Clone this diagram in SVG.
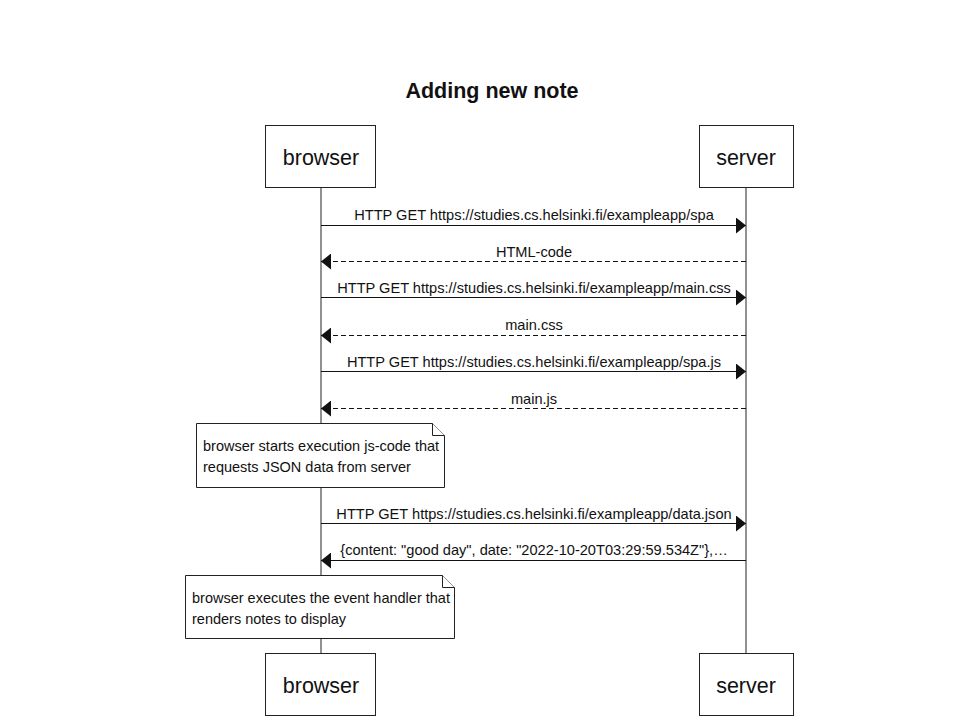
<svg xmlns="http://www.w3.org/2000/svg" width="973" height="725" viewBox="0 0 973 725">
<defs>
<style>
.box{fill:#fff;stroke:#222;stroke-width:1}
.life{stroke:#222;stroke-width:1}
.pt{font-family:"Liberation Sans",Arial,sans-serif;font-size:21.5px;fill:#111;text-anchor:middle}
.title{font-family:"Liberation Sans",Arial,sans-serif;font-size:21.5px;font-weight:bold;fill:#111;text-anchor:middle}
.msg{font-family:"Liberation Sans",Arial,sans-serif;font-size:14.6px;fill:#111;text-anchor:middle}
.nt{font-family:"Liberation Sans",Arial,sans-serif;font-size:14.5px;fill:#111}
.solid{stroke:#111;stroke-width:1;fill:none}
.dash{stroke:#111;stroke-width:1;fill:none;stroke-dasharray:5,3}
.note{fill:#fff;stroke:#222;stroke-width:1}
</style>
<marker id="ah" viewBox="0 0 10 16" refX="10" refY="8" markerWidth="10" markerHeight="16" markerUnits="userSpaceOnUse" orient="auto">
<path d="M0,0 L10,8 L0,16 z" fill="#111"/>
</marker>
</defs>
<rect width="973" height="725" fill="#fff"/>
<text class="title" x="492" y="98">Adding new note</text>
<g id="lifelines">
<line class="life" x1="321" y1="187" x2="321" y2="653"/>
<line class="life" x1="746" y1="187" x2="746" y2="653"/>
</g>
<g id="browser-top"><rect class="box" x="265.5" y="125.5" width="110" height="62"/><text class="pt" x="321" y="165">browser</text></g>
<g id="server-top"><rect class="box" x="699.5" y="125.5" width="94" height="62"/><text class="pt" x="746" y="165">server</text></g>
<g id="browser-bottom"><rect class="box" x="265.5" y="653.5" width="110" height="62"/><text class="pt" x="321" y="693">browser</text></g>
<g id="server-bottom"><rect class="box" x="699.5" y="653.5" width="94" height="62"/><text class="pt" x="746" y="693">server</text></g>
<g id="connectors">
<line class="solid" x1="321" y1="225.5" x2="746" y2="225.5" marker-end="url(#ah)"/>
<line class="dash" x1="746" y1="261.5" x2="321" y2="261.5" marker-end="url(#ah)"/>
<line class="solid" x1="321" y1="297.5" x2="746" y2="297.5" marker-end="url(#ah)"/>
<line class="dash" x1="746" y1="335.5" x2="321" y2="335.5" marker-end="url(#ah)"/>
<line class="solid" x1="321" y1="371.5" x2="746" y2="371.5" marker-end="url(#ah)"/>
<line class="dash" x1="746" y1="408.5" x2="321" y2="408.5" marker-end="url(#ah)"/>
<line class="solid" x1="321" y1="523.5" x2="746" y2="523.5" marker-end="url(#ah)"/>
<line class="solid" x1="746" y1="560.5" x2="321" y2="560.5" marker-end="url(#ah)"/>
</g>
<g id="labels">
<text class="msg" x="534" y="220">HTTP GET https://studies.cs.helsinki.fi/exampleapp/spa</text>
<text class="msg" x="534" y="257">HTML-code</text>
<text class="msg" x="534" y="293">HTTP GET https://studies.cs.helsinki.fi/exampleapp/main.css</text>
<text class="msg" x="534" y="330">main.css</text>
<text class="msg" x="534" y="367">HTTP GET https://studies.cs.helsinki.fi/exampleapp/spa.js</text>
<text class="msg" x="534" y="404">main.js</text>
<text class="msg" x="534" y="519">HTTP GET https://studies.cs.helsinki.fi/exampleapp/data.json</text>
<text class="msg" x="534" y="555">{content: "good day", date: "2022-10-20T03:29:59.534Z"},…</text>
</g>
<g id="note1">
<path class="note" d="M196.5,423.5 H432.5 L444.5,435.5 V487.5 H196.5 Z"/>
<path class="note" d="M432.5,423.5 V435.5 H444.5"/>
<text class="nt" x="203" y="451">browser starts execution js-code that</text>
<text class="nt" x="203" y="472">requests JSON data from server</text>
</g>
<g id="note2">
<path class="note" d="M185.5,575.5 H442.5 L454.5,587.5 V638.5 H185.5 Z"/>
<path class="note" d="M442.5,575.5 V587.5 H454.5"/>
<text class="nt" x="192" y="603">browser executes the event handler that</text>
<text class="nt" x="192" y="624">renders notes to display</text>
</g>
</svg>
